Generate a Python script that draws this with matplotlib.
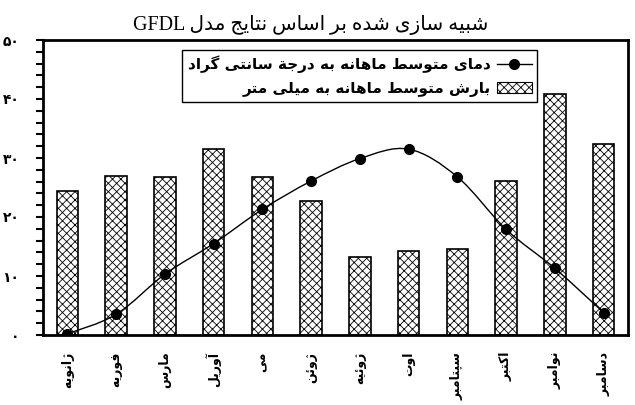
import numpy as np
import matplotlib
matplotlib.use("Agg")
import matplotlib.pyplot as plt
from matplotlib.path import Path
from matplotlib.patches import PathPatch, Patch
from matplotlib.lines import Line2D
from matplotlib.ticker import MultipleLocator, FixedLocator

# ---------------- data ----------------
months = ["ژانویه", "فوریه", "مارس", "آوریل", "می", "ژوئن",
          "ژوئیه", "اوت", "سپتامبر", "اکتبر", "نوامبر", "دسامبر"]
precip = [24.4, 27.0, 26.7, 31.6, 26.7, 22.7, 13.2, 14.3, 14.6, 26.1, 40.8, 32.4]
temp = [0.2, 3.5, 10.3, 15.5, 21.3, 26.1, 29.9, 31.5, 26.8, 17.9, 11.3, 3.8]
yticks = [0, 10, 20, 30, 40, 50]
title_fa = "شبیه سازی شده بر اساس نتایج مدل"
title_en = "GFDL"
label_temp = "دمای متوسط ماهانه به درجة سانتی گراد"
label_prec = "بارش متوسط ماهانه به میلی متر"

# ---------------- minimal Persian shaping ----------------
FORMS = {
    'ا': (0xFE8D, 0xFE8E), 'آ': (0xFE81, 0xFE82), 'ة': (0xFE93, 0xFE94),
    'ئ': (0xFE89, 0xFE8A, 0xFE8B, 0xFE8C),
    'ب': (0xFE8F, 0xFE90, 0xFE91, 0xFE92), 'پ': (0xFB56, 0xFB57, 0xFB58, 0xFB59),
    'ت': (0xFE95, 0xFE96, 0xFE97, 0xFE98), 'ج': (0xFE9D, 0xFE9E, 0xFE9F, 0xFEA0),
    'د': (0xFEA9, 0xFEAA), 'ر': (0xFEAD, 0xFEAE), 'ز': (0xFEAF, 0xFEB0),
    'ژ': (0xFB8A, 0xFB8B),
    'س': (0xFEB1, 0xFEB2, 0xFEB3, 0xFEB4), 'ش': (0xFEB5, 0xFEB6, 0xFEB7, 0xFEB8),
    'ط': (0xFEC1, 0xFEC2, 0xFEC3, 0xFEC4), 'ف': (0xFED1, 0xFED2, 0xFED3, 0xFED4),
    'ک': (0xFB8E, 0xFB8F, 0xFB90, 0xFB91), 'گ': (0xFB92, 0xFB93, 0xFB94, 0xFB95),
    'ل': (0xFEDD, 0xFEDE, 0xFEDF, 0xFEE0), 'م': (0xFEE1, 0xFEE2, 0xFEE3, 0xFEE4),
    'ن': (0xFEE5, 0xFEE6, 0xFEE7, 0xFEE8), 'و': (0xFEED, 0xFEEE),
    'ه': (0xFEE9, 0xFEEA, 0xFEEB, 0xFEEC), 'ی': (0xFBFC, 0xFBFD, 0xFBFE, 0xFBFF),
}


def shape(text):
    text = text.replace('ي', 'ی').replace('ك', 'ک')
    out = []
    n = len(text)
    for i, c in enumerate(text):
        f = FORMS.get(c)
        if f is None:
            out.append(c)
            continue
        prev = text[i - 1] if i > 0 else None
        nxt = text[i + 1] if i < n - 1 else None
        cp = prev is not None and prev in FORMS and len(FORMS[prev]) == 4
        cn = len(f) == 4 and nxt is not None and nxt in FORMS
        if cp and cn:
            g = f[3]
        elif cp:
            g = f[1]
        elif cn:
            g = f[2]
        else:
            g = f[0]
        out.append(chr(g))
    return ''.join(reversed(out))


def fa_digits(v):
    return str(v).translate(str.maketrans('0123456789', '۰۱۲۳۴۵۶۷۸۹'))


# ---------------- figure ----------------
plt.rcParams['hatch.linewidth'] = 0.6
fig = plt.figure(figsize=(6.35, 4.05), dpi=100)
ax = fig.add_axes([43 / 635, 70 / 405, 585 / 635, 295 / 405])

x = np.arange(len(months))
ax.bar(x, precip, width=0.44, facecolor='white', edgecolor='black',
       hatch='xxxx', linewidth=1.2, zorder=2)

# smoothed line through temperature points (Catmull-Rom as cubic Bezier)
P = np.column_stack([x, temp]).astype(float)
verts = [tuple(P[0])]
codes = [Path.MOVETO]
for i in range(len(P) - 1):
    p0 = P[i - 1] if i > 0 else P[i]
    p1, p2 = P[i], P[i + 1]
    p3 = P[i + 2] if i + 2 < len(P) else P[i + 1]
    c1 = p1 + (p2 - p0) / 6.0
    c2 = p2 - (p3 - p1) / 6.0
    verts += [tuple(c1), tuple(c2), tuple(p2)]
    codes += [Path.CURVE4] * 3
ax.add_patch(PathPatch(Path(verts, codes), facecolor='none', edgecolor='black',
                       linewidth=1.0, zorder=3))
ax.plot(x, temp, linestyle='none', marker='o', color='black', markersize=7, zorder=4)

ax.set_xlim(-0.5, len(months) - 0.5)
ax.set_ylim(0, 50)
ax.yaxis.set_major_locator(FixedLocator(yticks))
ax.yaxis.set_minor_locator(MultipleLocator(2))
ax.set_yticklabels([fa_digits(v) for v in yticks], fontsize=10, fontweight='bold',
                   family='DejaVu Sans')
ax.tick_params(axis='y', which='both', direction='out', length=5, width=1.5, pad=12)

ax.set_xticks(x)
ax.set_xticklabels([shape(m) for m in months], rotation=90, va='top', ha='center',
                   fontsize=9, fontweight='bold', family='DejaVu Sans')
ax.tick_params(axis='x', length=0, pad=12)

for s in ax.spines.values():
    s.set_linewidth(2)
    s.set_color('black')

handles = [Line2D([], [], color='black', lw=1, marker='o', markersize=7),
           Patch(facecolor='white', edgecolor='black', hatch='xxxx', linewidth=0.8)]
leg = ax.legend(handles, [shape(label_temp), shape(label_prec)],
                loc='upper right', bbox_to_anchor=(537 / 635, 1 - 50 / 405),
                bbox_transform=fig.transFigure, markerfirst=False, frameon=True,
                fancybox=False, edgecolor='black', framealpha=1, borderpad=0.35,
                handlelength=2.3, handletextpad=0.4, labelspacing=0.5, borderaxespad=0,
                prop=dict(family='DejaVu Sans', weight='bold', size=11))
leg.get_frame().set_linewidth(1.0)
leg.set_zorder(5)

fig.text(0.49, 1 - 25 / 405, title_en + ' ' + shape(title_fa), ha='center', va='center',
         fontsize=14.5, family=['Liberation Serif', 'DejaVu Sans'])

fig.savefig('out.png', dpi=100)
